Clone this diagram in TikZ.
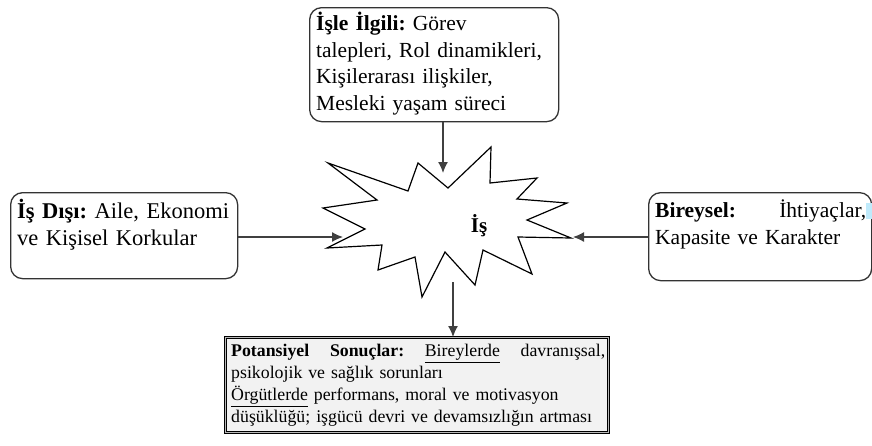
\documentclass[tikz,border=0pt]{standalone}
\usepackage{fontspec}
\setmainfont{Liberation Serif}
\usetikzlibrary{arrows.meta}
\frenchspacing
\begin{document}
\begin{tikzpicture}[x=1pt,y=-1pt,
  rbox/.style={draw=black!80, line width=1.3pt, rounded corners=12pt, fill=white, anchor=north west, inner sep=0pt},
  sbox/.style={draw=black, line width=0.9pt, double=gray!55, double distance=1pt, fill=black!5, anchor=north west, inner sep=0pt},
  txt/.style={anchor=north west, inner sep=0pt, align=left},
  conn/.style={draw=black!75, line width=1.3pt, -{Latex[length=11pt,width=10pt]}},
  burst/.style={draw=black, line width=1.2pt, line join=miter, fill=white},
]
\useasboundingbox (0,0) rectangle (872,445);
% boxes
\node[rbox, minimum width=249pt, minimum height=114pt] (work) at (309,7) {};
\node[txt, text width=242pt, font={\fontsize{21.5}{26.5}\selectfont}] (worktxt) at (316,12)
  {\textbf{İşle İlgili:} Görev\\talepleri, Rol dinamikleri,\\Kişilerarası ilişkiler,\\Mesleki yaşam süreci};
\node[rbox, minimum width=227pt, minimum height=86pt] (outside) at (10,192) {};
\node[txt, text width=222pt, font={\fontsize{22.5}{27}\selectfont}] (outsidetxt) at (17,199)
  {\textbf{İş Dışı:} Aile, Ekonomi\\ve Kişisel Korkular};
\node[rbox, minimum width=223pt, minimum height=88pt] (indiv) at (648,192) {};
\node[txt, text width=211pt, font={\fontsize{21.5}{27}\selectfont}] (indivtxt) at (655,200)
  {\textbf{Bireysel:}\hfill İhtiyaçlar,\\Kapasite ve Karakter};
\node[fill=cyan!25, anchor=north west, inner sep=0pt, minimum width=6pt, minimum height=16pt] (mark) at (866,203) {};
\node[sbox, minimum width=383pt, minimum height=95pt] (result) at (225,337) {};
\node[txt, text width=374pt, font={\fontsize{17.8}{22}\selectfont}] (resulttxt) at (231,344)
  {\textbf{Potansiyel}\hfill\textbf{Sonuçlar:}\hfill\underline{Bireylerde}\hfill davranışsal,\\psikolojik ve sağlık sorunları\\\underline{Örgütlerde} performans, moral ve motivasyon\\düşüklüğü; işgücü devri ve devamsızlığın artması};
% burst
\draw[burst] (328,163) -- (408,191) -- (418,163) -- (448,188) -- (491,147) -- (490,183)
  -- (537,178) -- (517,199) -- (567,203) -- (527,220) -- (571,238) -- (518,237)
  -- (532,274) -- (483,250) -- (475,285) -- (445,252) -- (422,297) -- (415,257)
  -- (378,270) -- (382,245) -- (327,248) -- (365,229) -- (323,208) -- (377,200) -- cycle;
\node[inner sep=0pt, font={\fontsize{21}{25}\selectfont\bfseries}] (is) at (479,226) {İş};
% connectors
\coordinate (topin) at (443,173);
\coordinate (leftin) at (343,237);
\coordinate (rightin) at (573,237);
\coordinate (botstart) at (453,282);
\draw[conn] (topin |- work.south) -- (topin);
\draw[conn] (leftin -| outside.east) -- (leftin);
\draw[conn] (rightin -| indiv.west) -- (rightin);
\draw[conn] (botstart) -- (botstart |- result.north);
\end{tikzpicture}
\end{document}
